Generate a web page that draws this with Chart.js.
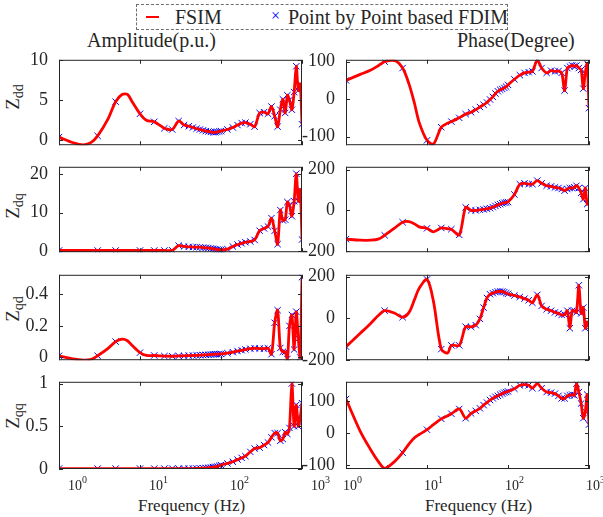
<!DOCTYPE html>
<html>
<head>
<meta charset="utf-8">
<script src="https://cdn.jsdelivr.net/npm/chart.js@4.4.1/dist/chart.umd.min.js"></script>
<style>
  html, body { margin: 0; padding: 0; background: #fff; }
  body { width: 603px; height: 517px; position: relative; overflow: hidden;
         font-family: "Liberation Serif", "Times New Roman", serif; color: #262626; }
  canvas { position: absolute; }
  .txt { position: absolute; white-space: nowrap; line-height: 20px; }
  .ylab { position: absolute; white-space: nowrap; font-size: 19px; line-height: 20px;
          transform: translate(-50%, -50%) rotate(-90deg); }
  .ylab sub { font-size: 14px; }
  #legend { position: absolute; left: 136px; top: 4px; width: 372px; height: 26px;
            border: 1px dashed #6e6e6e; box-sizing: border-box; }
</style>
</head>
<body>
<div id="legend">
  <div style="position:absolute;left:9px;top:11px;width:13px;height:2px;background:#ff0000;"></div>
  <div class="txt" style="left:38px;top:2px;font-size:20px;">FSIM</div>
  <div class="txt" style="left:134px;top:1px;font-size:16px;color:#0000ff;">&#215;</div>
  <div class="txt" style="left:151px;top:2px;font-size:20px;">Point by Point based FDIM</div>
</div>
<div class="txt" style="left:87px;top:30px;font-size:20px;">Amplitude(p.u.)</div>
<div class="txt" style="left:457px;top:30px;font-size:20px;">Phase(Degree)</div>
<div class="ylab" style="left:16px;top:97px;">Z<sub>dd</sub></div>
<div class="ylab" style="left:16px;top:206px;">Z<sub>dq</sub></div>
<div class="ylab" style="left:16px;top:309px;">Z<sub>qd</sub></div>
<div class="ylab" style="left:16px;top:416px;">Z<sub>qq</sub></div>
<div class="txt" style="left:138px;top:496px;font-size:17px;">Frequency (Hz)</div>
<div class="txt" style="left:425px;top:496px;font-size:17px;">Frequency (Hz)</div>

<script>
// frequency grid (Hz) of the FSIM curve, and the subset measured point by point
var freqs = [1, 1.5, 2, 2.5, 3, 4, 5, 6, 7, 8, 10, 12, 15, 18, 20, 25, 30, 35, 40, 45,
  50, 55, 60, 65, 70, 75, 80, 85, 90, 95, 100, 120, 140, 160, 180, 200, 230, 260, 300, 340,
  380, 420, 460, 500, 540, 580, 620, 660, 700, 750, 800, 850, 900, 950, 1000];
var markerFreqs = [1, 3, 5, 10, 15, 20, 25, 30, 35, 40, 45, 50, 55, 60, 65, 70, 75, 80, 85, 90,
  95, 100, 120, 140, 160, 180, 200, 230, 260, 300, 340, 380, 420, 460, 500, 540, 580, 620, 660,
  700, 750, 800, 850, 900, 950, 1000];

var zddAmp = [0.4, -0.3, -0.55, -0.25, 0.55, 2.6, 4.8, 5.7, 5.7, 4.8, 3.3, 2.5, 2.3, 1.8, 1.5, 1.35, 2.4, 1.9, 1.75, 1.6,
  1.45, 1.35, 1.25, 1.15, 1.1, 1.05, 1.0, 1.0, 1.05, 1.1, 1.15, 1.35, 1.6, 1.9, 2.15, 2.2, 2.0, 1.7, 3.4, 3.5,
  3.3, 4.2, 3.0, 1.7, 3.8, 5.1, 3.4, 5.6, 5.0, 3.8, 6.0, 9.2, 6.2, 7.0, 2.0];
var zddPhase = [50, 66, 77, 89, 100, 103, 83, 40, -11, -62, -110, -120, -75, -64, -60, -50, -40, -35, -28, -21,
  -15, -9, -1, 6, 15, 21, 25, 27, 30, 33, 38, 53, 64, 70, 72, 74, 104, 83, 70, 76,
  74, 75, 70, 23, 83, 87, 90, 88, 90, 83, 78, 28, 70, 95, -24];
var zdqAmp = [0.15, 0.15, 0.15, 0.15, 0.15, 0.15, 0.15, 0.15, 0.15, 0.15, 0.15, 0.15, 0.15, 0.15, 0.15, 0.2, 1.4, 1.2, 1.1, 1.05,
  1.0, 1.0, 0.9, 0.85, 0.8, 0.7, 0.6, 0.5, 0.4, 0.35, 0.3, 0.5, 1.2, 1.7, 2.0, 2.3, 2.5, 2.9, 5.3, 5.9,
  6.4, 8.6, 5.3, 1.8, 10.7, 8.0, 8.2, 12.8, 12.0, 9.1, 13.0, 20.2, 13.0, 16.0, 3.0];
var zdqPhase = [-141, -146, -146, -141, -122, -86, -58, -55, -66, -81, -88, -105, -86, -90, -92, -120, 15, 0, 0, 3,
  5, 8, 11, 16, 22, 27, 31, 35, 38, 39, 41, 78, 129, 133, 129, 129, 146, 133, 121, 118,
  113, 110, 105, 97, 105, 110, 110, 113, 121, 110, 86, 55, 110, 31, 39];
var zqdAmp = [0.01, -0.01, -0.017, -0.012, 0.01, 0.055, 0.1, 0.116, 0.106, 0.075, 0.03, 0.012, 0.012, 0.009, 0.008, 0.007, 0.009, 0.01, 0.011, 0.012,
  0.013, 0.014, 0.015, 0.016, 0.017, 0.018, 0.019, 0.02, 0.02, 0.021, 0.022, 0.027, 0.033, 0.04, 0.045, 0.05, 0.055, 0.058, 0.056, 0.055,
  0.058, 0.02, 0.22, 0.3, 0.06, 0.035, 0.035, -0.01, 0.2, 0.27, 0.05, 0.29, 0.12, 0.0, 0.51];
var zqdPhase = [-135, -71, -25, 14, 37, 25, 6, 29, 90, 144, 187, 83, -147, -165, -129, -129, -40, -40, -32, -2,
  52, 98, 116, 121, 126, 129, 129, 129, 126, 121, 118, 110, 103, 95, 87, 75, 113, 60, 44, 37,
  29, 24, 17, 18, 37, -47, 37, 37, 29, 159, 24, 52, -47, -17, -40];
var zqqAmp = [0.005, 0.005, 0.005, 0.005, 0.005, 0.005, 0.005, 0.005, 0.005, 0.005, 0.005, 0.005, 0.005, 0.005, 0.005, 0.005, 0.005, 0.005, 0.005, 0.005,
  0.006, 0.008, 0.01, 0.012, 0.015, 0.018, 0.022, 0.026, 0.03, 0.038, 0.046, 0.065, 0.085, 0.11, 0.13, 0.15, 0.2, 0.24, 0.25, 0.28,
  0.31, 0.37, 0.42, 0.42, 0.33, 0.35, 0.43, 0.41, 0.48, 1.0, 0.5, 0.75, 0.5, 0.6, 0.77];
var zqqPhase = [107, 6, -50, -88, -110, -88, -61, -33, -14, -4, 11, 27, 45, 55, 61, 76, 47, 62, 70, 78,
  88, 96, 104, 109, 114, 117, 121, 124, 127, 129, 131, 139, 150, 152, 150, 141, 155, 141, 129, 127,
  124, 117, 109, 109, 117, 119, 121, 119, 155, 129, 93, 47, 68, 121, 27];

// tick values
var xTicks = [1, 10, 100, 1000];
var xTickExp = ["0", "1", "2", "3"];
var ticksZddAmp = [0, 5, 10];
var ticksZdqAmp = [0, 10, 20];
var ticksZqdAmp = [0, 0.2, 0.4];
var ticksZqqAmp = [0, 0.5, 1];
var ticksPhase100 = [-100, 0, 100];
var ticksPhase200 = [-200, 0, 200];

var FONT = '"Liberation Serif", "Times New Roman", serif';
var INK = "#262626";

var rowTop = [58, 165, 273, 380];
var plotH = 89;
var colLeft = [0, 290];
var colWidth = [340, 313];
var yAxisW = [59, 56];
var padRight = [38, 14];
var labelShift = [9, -3];

var plots = [
  { row: 0, col: 0, values: zddAmp, min: -0.6, max: 10, ticks: ticksZddAmp },
  { row: 0, col: 1, values: zddPhase, min: -123, max: 105, ticks: ticksPhase100 },
  { row: 1, col: 0, values: zdqAmp, min: -0.3, max: 22, ticks: ticksZdqAmp },
  { row: 1, col: 1, values: zdqPhase, min: -205, max: 214, ticks: ticksPhase200 },
  { row: 2, col: 0, values: zqdAmp, min: -0.018, max: 0.525, ticks: ticksZqdAmp },
  { row: 2, col: 1, values: zqdPhase, min: -200, max: 209, ticks: ticksPhase200 },
  { row: 3, col: 0, values: zqqAmp, min: 0, max: 1.02, ticks: ticksZqqAmp },
  { row: 3, col: 1, values: zqqPhase, min: -112, max: 161, ticks: ticksPhase100 }
];

var framePlugin = {
  id: "frame",
  afterDatasetsDraw: function (chart, args, opts) {
    var a = chart.chartArea;
    var ctx = chart.ctx;
    var xs = chart.scales.x;
    var ys = chart.scales.y;
    ctx.save();
    ctx.strokeStyle = INK;
    ctx.lineWidth = 1;
    ctx.strokeRect(a.left + 0.5, a.top + 0.5, a.right - a.left - 1, a.bottom - a.top - 1);
    ctx.beginPath();
    xTicks.forEach(function (v) {
      var px = Math.round(xs.getPixelForValue(v)) + 0.5;
      ctx.moveTo(px, a.top); ctx.lineTo(px, a.top + 4);
      ctx.moveTo(px, a.bottom); ctx.lineTo(px, a.bottom - 4);
    });
    ys.ticks.forEach(function (t) {
      var py = Math.round(ys.getPixelForValue(t.value)) + 0.5;
      ctx.moveTo(a.left, py); ctx.lineTo(a.left + 4, py);
      ctx.moveTo(a.right, py); ctx.lineTo(a.right - 4, py);
    });
    ctx.stroke();
    if (opts.xLabels) {
      ctx.fillStyle = INK;
      ctx.textAlign = "left";
      ctx.textBaseline = "alphabetic";
      xTicks.forEach(function (v, i) {
        var px = xs.getPixelForValue(v) + opts.shift;
        ctx.font = "14px " + FONT;
        ctx.fillText("10", px, a.bottom + 21);
        var w = ctx.measureText("10").width;
        ctx.font = "10px " + FONT;
        ctx.fillText(xTickExp[i], px + w, a.bottom + 14);
      });
    }
    ctx.restore();
  }
};

function addCanvas(p) {
  var c = document.createElement("canvas");
  var bottomPad = p.row === 3 ? 40 : 12;
  c.width = colWidth[p.col];
  c.height = 12 + plotH + bottomPad;
  c.style.left = colLeft[p.col] + "px";
  c.style.top = (rowTop[p.row] - 12) + "px";
  document.body.appendChild(c);
  return { canvas: c, bottomPad: bottomPad };
}

plots.forEach(function (p) {
  var made = addCanvas(p);
  var linePts = freqs.map(function (f, i) { return { x: f, y: p.values[i] }; });
  var markPts = linePts.filter(function (pt) { return markerFreqs.indexOf(pt.x) >= 0; });

  new Chart(made.canvas.getContext("2d"), {
    type: "line",
    data: {
      datasets: [
        {
          label: "FSIM",
          data: linePts,
          borderColor: "#ff0000",
          borderWidth: 2.8,
          pointRadius: 0,
          tension: 0.3,
          fill: false,
          order: 1
        },
        {
          label: "Point by Point based FDIM",
          data: markPts,
          showLine: false,
          pointStyle: "crossRot",
          pointRadius: 4.5,
          pointBorderWidth: 1,
          pointBorderColor: "#0000ff",
          borderColor: "#0000ff",
          order: 2
        }
      ]
    },
    options: {
      responsive: false,
      animation: false,
      events: [],
      layout: { padding: { left: 0, right: padRight[p.col], top: 12, bottom: made.bottomPad } },
      plugins: {
        legend: { display: false },
        tooltip: { enabled: false },
        frame: { xLabels: p.row === 3, shift: labelShift[p.col] }
      },
      scales: {
        x: {
          type: "logarithmic",
          min: 1,
          max: 1000,
          display: false
        },
        y: {
          type: "linear",
          min: p.min,
          max: p.max,
          grid: { display: false },
          border: { display: false },
          ticks: {
            color: INK,
            padding: 3,
            font: { family: FONT, size: 18 },
            callback: function (v) { return String(v); }
          },
          afterBuildTicks: function (scale) {
            scale.ticks = p.ticks.map(function (v) { return { value: v }; });
          },
          afterFit: function (scale) { scale.width = yAxisW[p.col]; }
        }
      }
    },
    plugins: [framePlugin]
  });
});
</script>
</body>
</html>
